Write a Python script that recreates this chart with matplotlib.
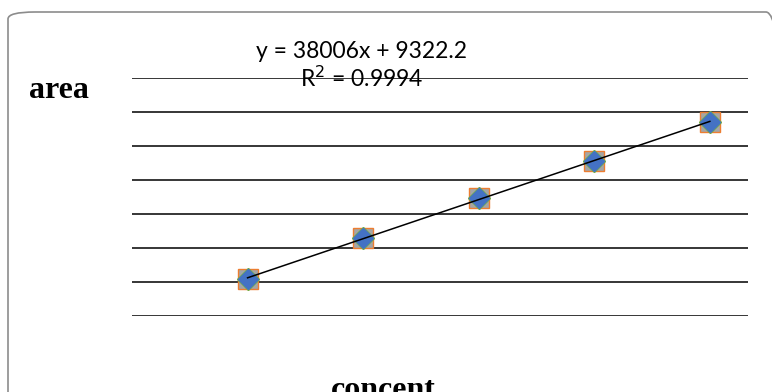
"""
Calibration curve: area vs concentration with linear trendline.
"""

import matplotlib
matplotlib.use('Agg')
import matplotlib.pyplot as plt
from matplotlib.patches import FancyBboxPatch
import numpy as np

# data
concent = [1, 2, 3, 4, 5]
area = [47300, 87000, 125700, 161500, 199300]
trend_text = "y = 38006x + 9322.2\nR$^2$ = 0.9994"

y_min, y_step, n_grid = 11484, 32912, 7


def main():
    fig = plt.figure(figsize=(7.72, 3.92), dpi=100)

    # rounded chart border (runs off the right and bottom edge)
    border = FancyBboxPatch((8 / 772, -0.2), 785 / 772, 1.2 - 12 / 392,
                            boxstyle="round,pad=0,rounding_size=0.035",
                            transform=fig.transFigure, facecolor='none',
                            edgecolor='#8c8c8c', linewidth=1.2,
                            mutation_aspect=392 / 772)
    fig.patches.append(border)

    ax = fig.add_axes([132 / 772, 76 / 392, 616 / 772, 238 / 392])
    ax.set_xlim(0, 5.33)
    ax.set_ylim(y_min, y_min + n_grid * y_step)
    ax.set_yticks([y_min + i * y_step for i in range(n_grid + 1)])
    ax.set_xticks([])
    ax.tick_params(axis='y', length=0, labelleft=False)
    ax.grid(axis='y', color='black', linewidth=1.1)
    for side in ax.spines.values():
        side.set_visible(False)
    ax.set_facecolor('none')

    # linear trendline
    slope, icept = np.polyfit(concent, area, 1)
    xs = np.array([concent[0], concent[-1]])
    ax.plot(xs, slope * xs + icept, color='black', linewidth=1.1, zorder=4)

    # stacked markers like excel's overlapping series
    ax.plot(concent, area, 's', ms=14, mfc='#A5A5A5', mec='#ED7D31',
            mew=1, ls='none', zorder=3)
    ax.plot(concent, area, 'D', ms=11.5, mfc='#70AD47', mec='#70AD47',
            ls='none', zorder=3)
    ax.plot(concent, area, 'D', ms=10.5, mfc='#4472C4', mec='#4472C4',
            ls='none', zorder=3)

    fig.text(362 / 772, 1 - 66 / 392, trend_text, ha='center', va='center',
             fontsize=16.5, family='Lato', linespacing=1.15)

    fig.text(29 / 772, 1 - 90 / 392, "area", ha='left', va='center',
             fontsize=23, fontweight='bold', family='Liberation Serif')
    fig.text(383 / 772, 1 - 390 / 392, "concent", ha='center', va='center',
             fontsize=23, fontweight='bold', family='Liberation Serif')

    fig.savefig('out.png', dpi=100)
    plt.close(fig)


if __name__ == "__main__":
    main()
